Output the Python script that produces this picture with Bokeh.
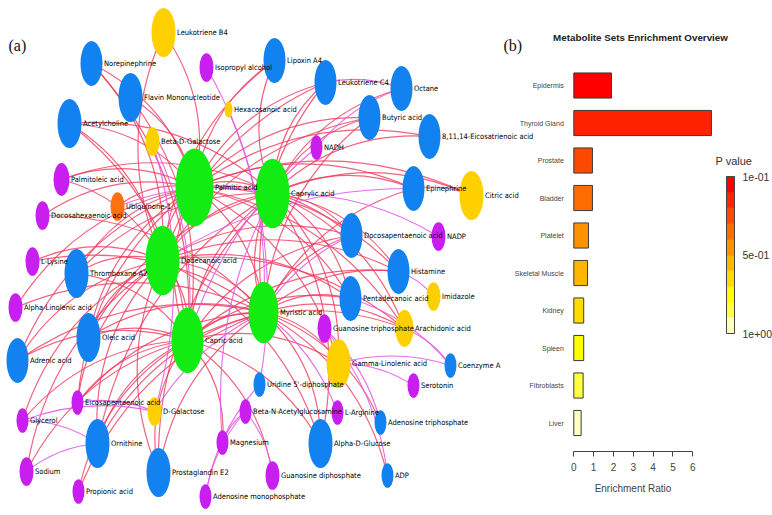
from bokeh.plotting import figure
from bokeh.models import (Range1d, LinearAxis, FixedTicker, Label, ColorBar,
                          LinearColorMapper, ColumnDataSource)
from bokeh.core.properties import value
from bokeh.embed import file_html
from bokeh.resources import INLINE

# ---------------- (a) network data ----------------
node_names = [
    "Palmitic acid", "Dodecanoic acid", "Caprylic acid", "Myristic acid", "Capric acid",
    "Norepinephrine", "Flavin Mononucleotide", "Acetylcholine", "Lipoxin A4", "Leukotriene C4",
    "Octane", "Butyric acid", "8,11,14-Eicosatrienoic acid", "Thromboxane A2", "Oleic acid",
    "Adrenic acid", "Epinephrine", "Docosapentaenoic acid", "Histamine", "Pentadecanoic acid",
    "Ornithine", "Prostaglandin E2", "Uridine 5'-diphosphate", "Alpha-D-Glucose",
    "Adenosine triphosphate", "ADP", "Coenzyme A",
    "Leukotriene B4", "Hexacosanoic acid", "Beta-D-Galactose", "Citric acid", "Imidazole",
    "Arachidonic acid", "Gamma-Linolenic acid", "D-Galactose",
    "Isopropyl alcohol", "NADH", "Palmitoleic acid", "Docosahexaenoic acid", "L-Lysine",
    "Alpha-Linolenic acid", "NADP", "Guanosine triphosphate", "Eicosapentaenoic acid", "Glycerol",
    "Sodium", "Propionic acid", "Magnesium", "Beta-N-Acetylglucosamine", "Adenosine monophosphate",
    "Serotonin", "L-Arginine", "Guanosine diphosphate",
    "Ubiquinone-1",
]
node_x = [194, 162, 272, 263, 187,
          91, 130, 69, 274, 325,
          401, 369, 429, 76, 88,
          17, 413, 351, 398, 350,
          97, 158, 259, 320,
          380, 387, 450,
          163, 228, 152, 471, 433,
          404, 338, 154,
          206, 316, 61, 42, 32,
          15, 438, 324, 77, 22,
          26, 78, 222, 245, 205,
          413, 337, 272,
          117]
node_y = [187, 260, 193, 312, 340,
          63, 97, 123, 60, 82,
          88, 117, 136, 273, 337,
          360, 188, 235, 271, 298,
          443, 472, 384, 443,
          422, 475, 365,
          32, 109, 141, 195, 296,
          328, 363, 411,
          67, 147, 179, 215, 261,
          307, 236, 328, 402, 420,
          471, 491, 442, 411, 496,
          385, 412, 475,
          206]
node_size = [38, 34, 34, 30, 32,
             22, 24, 24, 22, 22,
             22, 22, 22, 24, 24,
             22, 22, 22, 22, 22,
             24, 24, 12, 24,
             12, 12, 12,
             24, 8, 14, 24, 14,
             18, 24, 14,
             14, 12, 16, 14, 14,
             14, 14, 14, 12, 12,
             14, 12, 12, 12, 12,
             12, 12, 14,
             14]
node_class = (["hub"] * 5 + ["blue"] * 22 + ["yellow"] * 8 + ["purple"] * 18 + ["orange"])

hub_links = {
    "Palmitic acid": ["Leukotriene B4", "Norepinephrine", "Flavin Mononucleotide", "Acetylcholine",
                      "Lipoxin A4", "Leukotriene C4", "Butyric acid", "8,11,14-Eicosatrienoic acid",
                      "Palmitoleic acid", "Docosahexaenoic acid", "Thromboxane A2", "Epinephrine",
                      "Docosapentaenoic acid", "Histamine", "Pentadecanoic acid", "Arachidonic acid",
                      "Oleic acid", "Adrenic acid", "Alpha-Linolenic acid", "Eicosapentaenoic acid",
                      "Citric acid", "Gamma-Linolenic acid", "Ubiquinone-1", "Dodecanoic acid",
                      "Caprylic acid", "Myristic acid", "Capric acid"],
    "Dodecanoic acid": ["Norepinephrine", "Acetylcholine", "Leukotriene B4", "Lipoxin A4",
                        "Leukotriene C4", "Butyric acid", "Palmitoleic acid", "L-Lysine",
                        "Thromboxane A2", "Docosapentaenoic acid", "Pentadecanoic acid", "Histamine",
                        "Arachidonic acid", "Oleic acid", "Adrenic acid", "Eicosapentaenoic acid",
                        "Glycerol", "Ornithine", "Sodium", "Prostaglandin E2", "Alpha-D-Glucose",
                        "Caprylic acid", "Myristic acid", "Capric acid"],
    "Caprylic acid": ["Lipoxin A4", "Leukotriene C4", "Octane", "Butyric acid",
                      "8,11,14-Eicosatrienoic acid", "Epinephrine", "Citric acid",
                      "Docosapentaenoic acid", "Histamine", "Pentadecanoic acid", "Arachidonic acid",
                      "Gamma-Linolenic acid", "Acetylcholine", "Palmitoleic acid", "Thromboxane A2",
                      "Oleic acid", "Ornithine", "Prostaglandin E2", "Alpha-D-Glucose",
                      "Myristic acid", "Capric acid"],
    "Myristic acid": ["Docosapentaenoic acid", "Pentadecanoic acid", "Histamine", "Arachidonic acid",
                      "Gamma-Linolenic acid", "Epinephrine", "Butyric acid", "Leukotriene C4",
                      "Docosahexaenoic acid", "L-Lysine", "Alpha-Linolenic acid", "Oleic acid",
                      "Adrenic acid", "Eicosapentaenoic acid", "Ornithine", "Propionic acid",
                      "Prostaglandin E2", "Alpha-D-Glucose", "ADP", "Adenosine triphosphate",
                      "Capric acid"],
    "Capric acid": ["Acetylcholine", "Norepinephrine", "Flavin Mononucleotide", "Thromboxane A2",
                    "Oleic acid", "Adrenic acid", "Glycerol", "Sodium", "Ornithine", "Propionic acid",
                    "Prostaglandin E2", "Eicosapentaenoic acid", "Alpha-D-Glucose",
                    "Guanosine diphosphate", "Magnesium", "Pentadecanoic acid",
                    "Docosapentaenoic acid", "Histamine", "Arachidonic acid", "Gamma-Linolenic acid"],
}
other_links = [
    ("Isopropyl alcohol", "Myristic acid"), ("Hexacosanoic acid", "Uridine 5'-diphosphate"),
    ("Beta-D-Galactose", "D-Galactose"), ("Octane", "NADH"), ("NADH", "Capric acid"),
    ("Leukotriene C4", "Octane"), ("Epinephrine", "Citric acid"), ("Epinephrine", "Dodecanoic acid"),
    ("Histamine", "Imidazole"), ("Arachidonic acid", "Coenzyme A"),
    ("Gamma-Linolenic acid", "Coenzyme A"), ("Pentadecanoic acid", "Coenzyme A"),
    ("Guanosine triphosphate", "Adenosine triphosphate"), ("Guanosine triphosphate", "ADP"),
    ("Glycerol", "Ornithine"), ("Glycerol", "D-Galactose"), ("Eicosapentaenoic acid", "D-Galactose"),
    ("Sodium", "Ornithine"), ("Beta-N-Acetylglucosamine", "Magnesium"),
    ("Adenosine monophosphate", "Beta-N-Acetylglucosamine"),
    ("Adenosine monophosphate", "Uridine 5'-diphosphate"), ("Magnesium", "Caprylic acid"),
    ("L-Arginine", "Myristic acid"), ("Serotonin", "Gamma-Linolenic acid"),
    ("NADP", "Caprylic acid"), ("Guanosine diphosphate", "Beta-N-Acetylglucosamine"),
    ("Docosapentaenoic acid", "Myristic acid"), ("D-Galactose", "Myristic acid"),
    ("Ubiquinone-1", "Caprylic acid"), ("Beta-D-Galactose", "Capric acid"),
]

# ---------------- (b) enrichment data ----------------
tissues = ["Epidermis", "Thyroid Gland", "Prostate", "Bladder", "Platelet",
           "Skeletal Muscle", "Kidney", "Spleen", "Fibroblasts", "Liver"]
enrichment_ratio = [1.90, 6.94, 0.94, 0.94, 0.74, 0.69, 0.50, 0.50, 0.47, 0.37]
bar_colors = ["#FF0000", "#FF2400", "#FF4900", "#FF6D00", "#FF9200",
              "#FFB600", "#FFDB00", "#FFFF00", "#FFFF40", "#FFFFBF"]
ratio_ticks = [0, 1, 2, 3, 4, 5, 6]
pvalue_ticks = [0, 0.5, 1]
pvalue_labels = ["1e+00", "5e-01", "1e-01"]

# ---------------- styling / layout ----------------
W, H = 772, 515
TOP, LEFT = 0, 0
class_colors = {"hub": "#12EC12", "blue": "#1282F0", "yellow": "#FFD000",
                "purple": "#C81EF0", "orange": "#FF7010"}
NET_FONT = value("Liberation Sans Narrow, DejaVu Sans Condensed, Liberation Sans, sans-serif")
SANS = "Liberation Sans, Arial, sans-serif"
SERIF = "Liberation Serif, serif"

p = figure(width=W, height=H, x_range=Range1d(LEFT, LEFT + W), y_range=Range1d(TOP + H, TOP),
           x_axis_type=None, y_axis_type=None, toolbar_location=None, output_backend="svg",
           min_border=0, outline_line_color=None)
p.background_fill_color = "white"
p.border_fill_color = "white"

pos = {n: (x, y) for n, x, y in zip(node_names, node_x, node_y)}


def edges_source(pairs, bend=0.22):
    d = dict(x0=[], y0=[], x1=[], y1=[], cx=[], cy=[])
    for a, b in pairs:
        x0, y0 = pos[a]
        x1, y1 = pos[b]
        mx, my = (x0 + x1) / 2, (y0 + y1) / 2
        px, py = (y1 - y0) * bend, -(x1 - x0) * bend
        if py > 0:
            px, py = -px, -py
        d["x0"].append(x0); d["y0"].append(y0)
        d["x1"].append(x1); d["y1"].append(y1)
        d["cx"].append(mx + px); d["cy"].append(my + py)
    return ColumnDataSource(d)


red_pairs = [(h, t) for h, ts in hub_links.items() for t in ts]
p.quadratic(x0="x0", y0="y0", x1="x1", y1="y1", cx="cx", cy="cy",
            source=edges_source(red_pairs), line_color="#EE3B5E", line_alpha=0.8, line_width=1.2)
p.quadratic(x0="x0", y0="y0", x1="x1", y1="y1", cx="cx", cy="cy",
            source=edges_source(other_links, 0.15), line_color="#E65AE6", line_alpha=0.9,
            line_width=1.1)

nodes = ColumnDataSource(dict(
    x=node_x, y=node_y, w=node_size, h=[s * 2.05 for s in node_size],
    c=[class_colors[k] for k in node_class], name=node_names,
    lx=[x + s / 2 + 1.5 for x, s in zip(node_x, node_size)]))
p.ellipse(x="x", y="y", width="w", height="h", fill_color="c", line_color=None, source=nodes)
p.text(x="lx", y="y", text="name", source=nodes, text_font=NET_FONT, text_font_size="7.5px",
       text_baseline="middle", text_align="left", text_color="#000000")

p.add_layout(Label(x=8, y=45, text="(a)", text_font=SERIF,
                   text_font_size="16px", text_baseline="middle", text_color="#111111"))
p.add_layout(Label(x=503, y=45, text="(b)", text_font=SERIF,
                   text_font_size="16px", text_baseline="middle", text_color="#111111"))

# bar chart ranges: ratio 0 at px 573.3, 19.83 px per unit; bar k centre at 85 + 37.5 k
X0PX, XSTEP = 573.3, 19.83
Y0PX, YSTEP = 85.0, 37.5
p.extra_x_ranges = {"bx": Range1d((LEFT - X0PX) / XSTEP, (LEFT + W - X0PX) / XSTEP)}
p.extra_y_ranges = {"by": Range1d((TOP + H - Y0PX) / YSTEP, (TOP - Y0PX) / YSTEP)}

p.hbar(y=list(range(len(tissues))), left=0, right=enrichment_ratio, height=0.67,
       fill_color=bar_colors, line_color="#3a3a3a", line_width=1,
       x_range_name="bx", y_range_name="by")

xa = LinearAxis(x_range_name="bx", y_range_name="by", fixed_location=(451 - Y0PX) / YSTEP,
                bounds=(0, 6), ticker=FixedTicker(ticks=ratio_ticks),
                axis_label="Enrichment Ratio")
xa.axis_line_color = "#444444"
xa.major_tick_line_color = "#444444"
xa.major_tick_out = 5
xa.major_tick_in = 0
xa.minor_tick_line_color = None
xa.major_label_standoff = 6
xa.major_label_text_font = SANS
xa.major_label_text_font_size = "10px"
xa.major_label_text_color = "#444444"
xa.axis_label_text_font = SANS
xa.axis_label_text_font_size = "10px"
xa.axis_label_text_font_style = "normal"
xa.axis_label_text_color = "#444444"
xa.axis_label_standoff = 9
p.add_layout(xa, "below")

ya = LinearAxis(x_range_name="bx", y_range_name="by", fixed_location=0,
                ticker=FixedTicker(ticks=list(range(len(tissues)))),
                major_label_overrides={i: t for i, t in enumerate(tissues)})
ya.axis_line_color = None
ya.major_tick_line_color = None
ya.minor_tick_line_color = None
ya.major_tick_out = 0
ya.major_tick_in = 0
ya.major_label_standoff = 10
ya.major_label_text_font = SANS
ya.major_label_text_font_size = "7px"
ya.major_label_text_color = "#444444"
p.add_layout(ya, "left")

p.add_layout(Label(x=(640 - X0PX) / XSTEP, y=(37 - Y0PX) / YSTEP, x_range_name="bx",
                   y_range_name="by", text="Metabolite Sets Enrichment Overview",
                   text_font=SANS, text_font_size="9.8px", text_font_style="bold",
                   text_align="center", text_baseline="middle", text_color="#222222"))
p.add_layout(Label(x=(715 - X0PX) / XSTEP, y=(160 - Y0PX) / YSTEP, x_range_name="bx",
                   y_range_name="by", text="P value", text_font=SANS, text_font_size="11px",
                   text_align="left", text_baseline="middle", text_color="#333333"))

mapper = LinearColorMapper(palette=bar_colors[::-1], low=0, high=1)
cb = ColorBar(color_mapper=mapper, ticker=FixedTicker(ticks=pvalue_ticks),
              major_label_overrides={t: s for t, s in zip(pvalue_ticks, pvalue_labels)},
              width=8, height=157, location=(726 - LEFT, TOP + H - 333), padding=0,
              background_fill_alpha=0, border_line_color=None, bar_line_color="#444444",
              major_tick_line_color=None, label_standoff=8,
              major_label_text_font=SANS, major_label_text_font_size="10.5px",
              major_label_text_color="#333333")
p.add_layout(cb)

open("out.html", "w").write(file_html(p, INLINE))
